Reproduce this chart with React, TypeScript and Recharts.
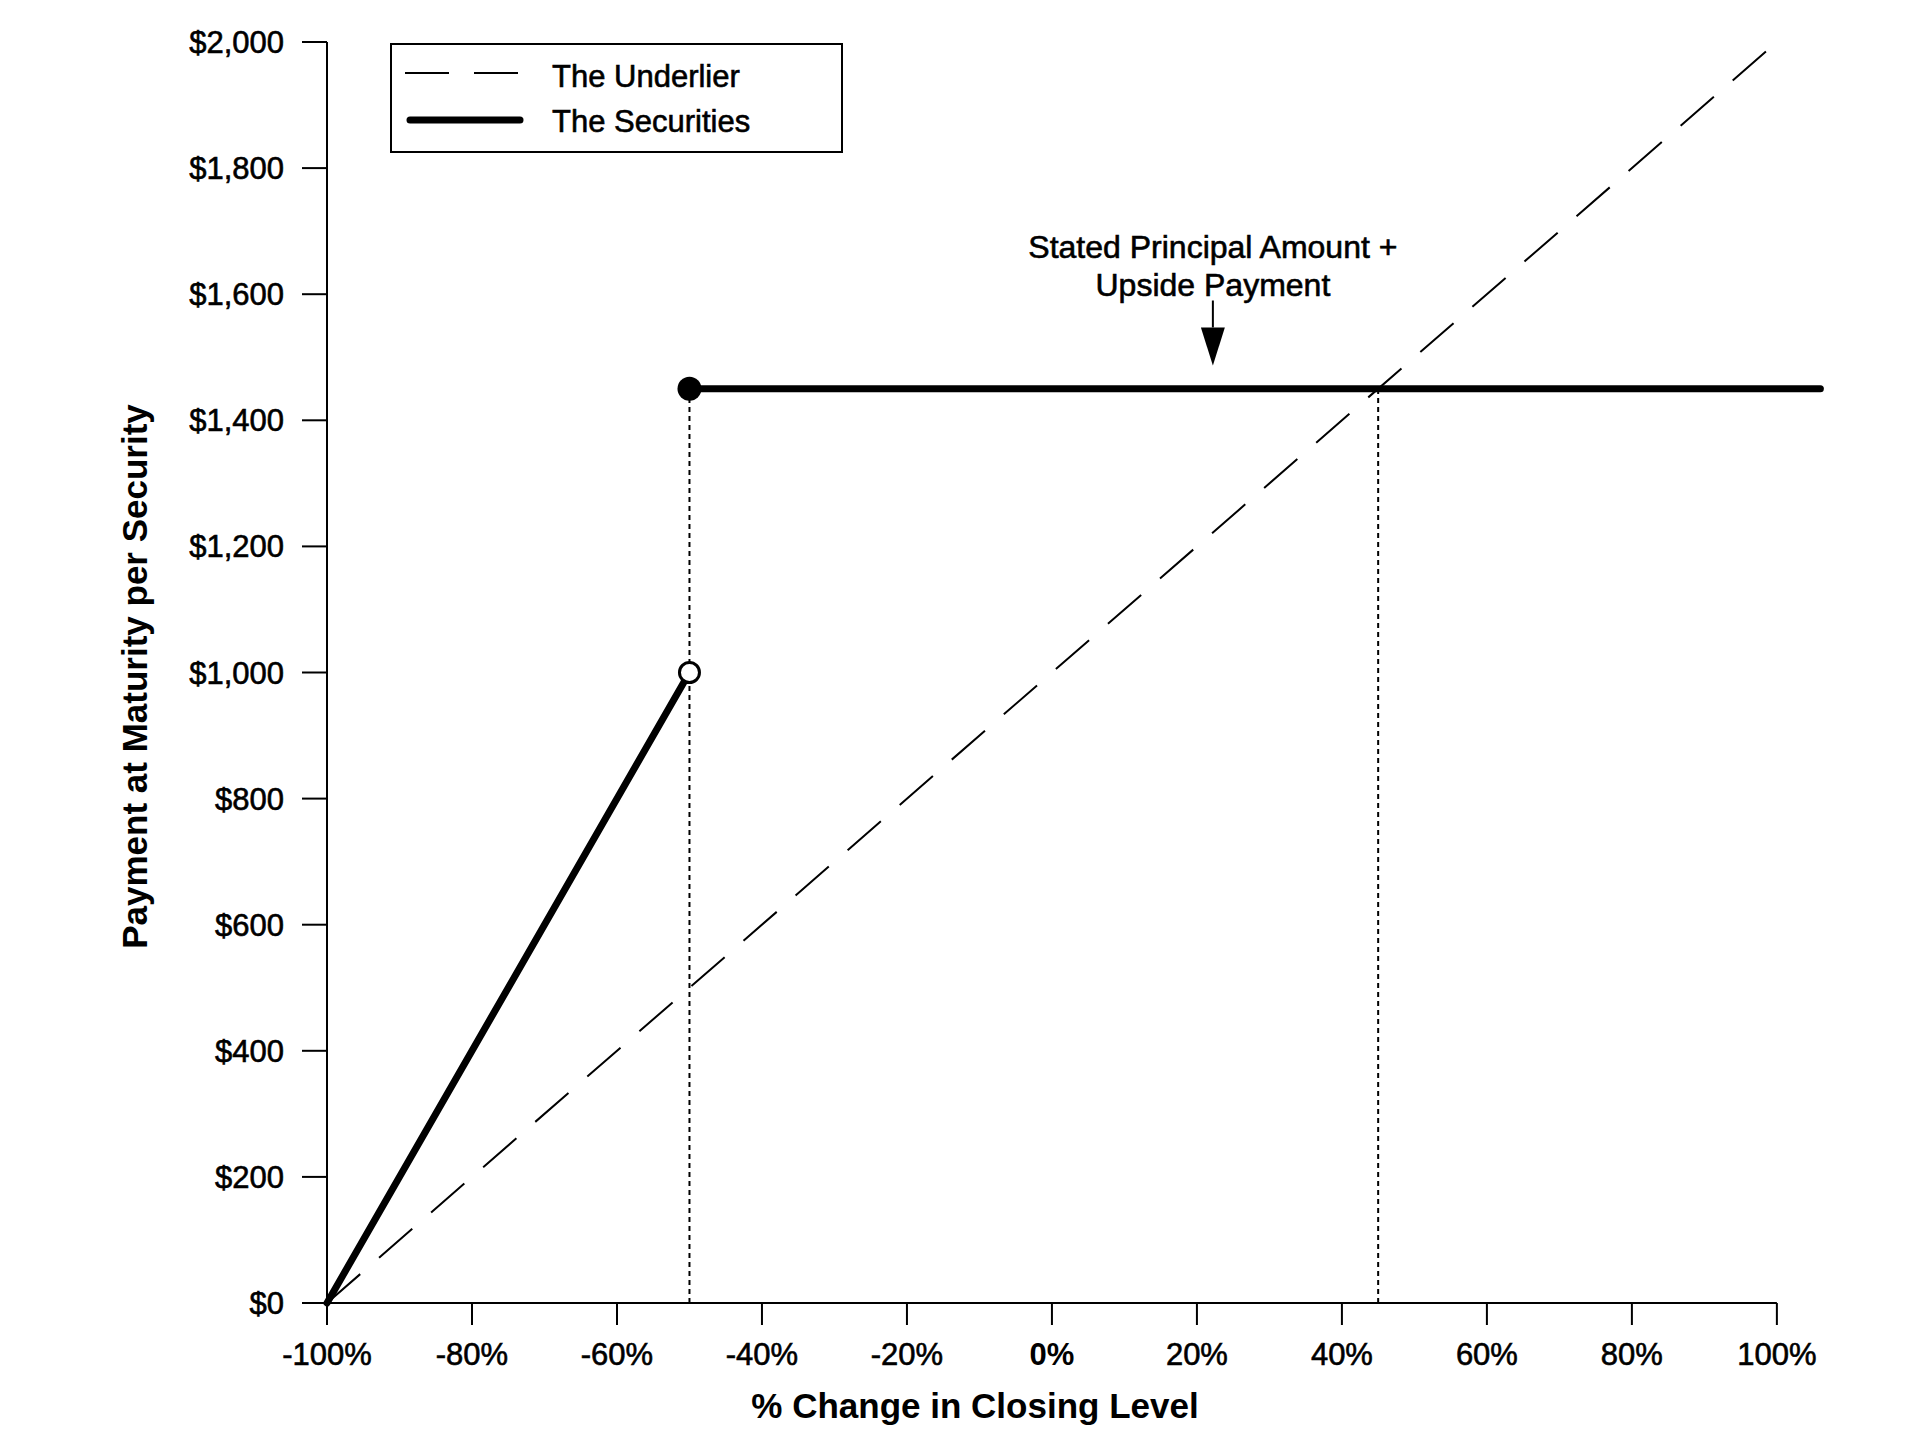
import React from 'react';
import { ComposedChart, Line, XAxis, YAxis, ReferenceLine, Legend, Label } from 'recharts';

const FONT = '"Liberation Sans", Arial, Helvetica, sans-serif';

// x = % change in closing level, y = payment at maturity per security
const underlierPct = [-100, 100];
const underlierPay = [0, 2000];
const downsidePct = [-100, -50];
const downsidePay = [0, 1000];
const cappedPct = [-50, 106];
const cappedPay = [1450, 1450];
const thresholdPct = -50;
const capPct = 45;
const capPay = 1450;

const xTicks = [-100, -80, -60, -40, -20, 0, 20, 40, 60, 80, 100];
const yTicks = [0, 200, 400, 600, 800, 1000, 1200, 1400, 1600, 1800, 2000];

const legendItems = [
  { name: 'The Underlier', dash: '44 25', width: 2 },
  { name: 'The Securities', dash: undefined, width: 7 },
];

const annotationLines = ['Stated Principal Amount +', 'Upside Payment'];
const annotationPct = 22.2;
const arrowFrom = 1590;
const arrowTo = 1487;

const toPoints = (xs: number[], ys: number[]) => xs.map((x, i) => ({ x, y: ys[i] }));

const underlier = toPoints(underlierPct, underlierPay);
const downside = toPoints(downsidePct, downsidePay);
const capped = toPoints(cappedPct, cappedPay);
const thresholdLine = toPoints([thresholdPct, thresholdPct], [0, capPay]);
const capLine = toPoints([capPct, capPct], [0, capPay]);

const fmtMoney = (v: number) => '$' + v.toLocaleString('en-US');

// slightly heavier "regular" text, like the source
const heavy = { stroke: '#000', strokeWidth: 0.6 };

const OpenEndDot = (props: any) =>
  props.index === downside.length - 1 ? (
    <circle key={`o-${props.index}`} cx={props.cx} cy={props.cy} r={10} fill="#fff" stroke="#000" strokeWidth={3} />
  ) : (
    <g key={`o-${props.index}`} />
  );

const FilledStartDot = (props: any) =>
  props.index === 0 ? (
    <circle key={`f-${props.index}`} cx={props.cx} cy={props.cy} r={12} fill="#000" stroke="none" />
  ) : (
    <g key={`f-${props.index}`} />
  );

const XTick = (props: any) => {
  const { x, y, payload } = props;
  const isZero = payload.value === 0;
  return (
    <text
      x={x}
      y={y}
      dy="0.71em"
      textAnchor="middle"
      fill="#000"
      fontSize={31}
      fontFamily={FONT}
      fontWeight={isZero ? 'bold' : 'normal'}
      {...(isZero ? {} : heavy)}
    >
      {`${payload.value}%`}
    </text>
  );
};

const Arrow = (props: any) => {
  const { x1, y1, y2 } = props;
  const head = 38;
  return (
    <g>
      {annotationLines.map((t, i) => (
        <text key={t} x={x1} y={y1 - 43 + i * 38} textAnchor="middle" fontSize={32} fontFamily={FONT} fill="#000" {...heavy}>
          {t}
        </text>
      ))}
      <line x1={x1} y1={y1} x2={x1} y2={y2 - head} stroke="#000" strokeWidth={2} />
      <polygon points={`${x1 - 12},${y2 - head} ${x1 + 12},${y2 - head} ${x1},${y2}`} fill="#000" />
    </g>
  );
};

const LegendBox = () => (
  <svg width={453} height={110} style={{ display: 'block' }}>
    <rect x={1} y={1} width={451} height={108} fill="#fff" stroke="#000" strokeWidth={2} />
    {legendItems.map((item, i) => (
      <g key={item.name}>
        <line
          x1={item.dash ? 15 : 20}
          x2={item.dash ? 128 : 130}
          y1={30 + i * 47}
          y2={30 + i * 47}
          stroke="#000"
          strokeWidth={item.width}
          strokeDasharray={item.dash}
          strokeLinecap={item.dash ? 'butt' : 'round'}
        />
        <text x={162} y={44 + i * 45} fontSize={31} fontFamily={FONT} fill="#000" {...heavy}>
          {item.name}
        </text>
      </g>
    ))}
  </svg>
);

export default function App() {
  return (
    <div style={{ position: 'absolute', left: 0, top: 0, width: 1915, height: 1454, background: '#fff', fontFamily: FONT }}>
      <ComposedChart width={1915} height={1454} margin={{ top: 42, right: 91, bottom: 0, left: 0 }}>
        <XAxis
          type="number"
          dataKey="x"
          domain={[-100, 106.5]}
          ticks={xTicks}
          interval={0}
          height={151}
          axisLine={false}
          tickLine={{ stroke: '#000', strokeWidth: 2 }}
          tickSize={22}
          tickMargin={18}
          tick={<XTick />}
        >
          <Label
            content={({ viewBox }: any) => (
              <text x={viewBox.x + 648} y={viewBox.y + 115} textAnchor="middle" fontSize={35} fontWeight="bold" fontFamily={FONT} fill="#000">
                % Change in Closing Level
              </text>
            )}
          />
        </XAxis>
        <YAxis
          type="number"
          dataKey="y"
          domain={[0, 2000]}
          ticks={yTicks}
          interval={0}
          width={327}
          axisLine={{ stroke: '#000', strokeWidth: 2 }}
          tickLine={{ stroke: '#000', strokeWidth: 2 }}
          tickSize={25}
          tickMargin={18}
          tickFormatter={fmtMoney}
          tick={{ fill: '#000', fontSize: 31, fontFamily: FONT, ...heavy }}
        >
          <Label
            content={({ viewBox }: any) => {
              const cx = 134;
              const cy = viewBox.y + viewBox.height / 2 + 4;
              return (
                <text
                  x={cx}
                  y={cy}
                  textAnchor="middle"
                  dominantBaseline="central"
                  transform={`rotate(-90 ${cx} ${cy})`}
                  fontSize={35}
                  fontWeight="bold"
                  fontFamily={FONT}
                  fill="#000"
                >
                  Payment at Maturity per Security
                </text>
              );
            }}
          />
        </YAxis>
        <ReferenceLine
          segment={[
            { x: -100, y: 0 },
            { x: 100, y: 0 },
          ]}
          stroke="#000"
          strokeWidth={2}
        />
        <Legend
          layout="horizontal"
          verticalAlign="middle"
          align="center"
          wrapperStyle={{ left: 390, top: 43, width: 453, height: 110 }}
          content={() => <LegendBox />}
        />
        <Line data={thresholdLine} dataKey="y" type="linear" stroke="#000" strokeWidth={2} strokeDasharray="5 4" dot={false} activeDot={false} isAnimationActive={false} />
        <Line data={capLine} dataKey="y" type="linear" stroke="#000" strokeWidth={2} strokeDasharray="5 4" dot={false} activeDot={false} isAnimationActive={false} />
        <Line data={underlier} dataKey="y" type="linear" stroke="#000" strokeWidth={2} strokeDasharray="44 25" dot={false} activeDot={false} isAnimationActive={false} />
        <Line data={downside} dataKey="y" type="linear" stroke="#000" strokeWidth={7} strokeLinecap="round" dot={OpenEndDot} activeDot={false} isAnimationActive={false} />
        <Line data={capped} dataKey="y" type="linear" stroke="#000" strokeWidth={7} strokeLinecap="round" dot={FilledStartDot} activeDot={false} isAnimationActive={false} />
        <ReferenceLine
          segment={[
            { x: annotationPct, y: arrowFrom },
            { x: annotationPct, y: arrowTo },
          ]}
          shape={Arrow}
        />
      </ComposedChart>
    </div>
  );
}
